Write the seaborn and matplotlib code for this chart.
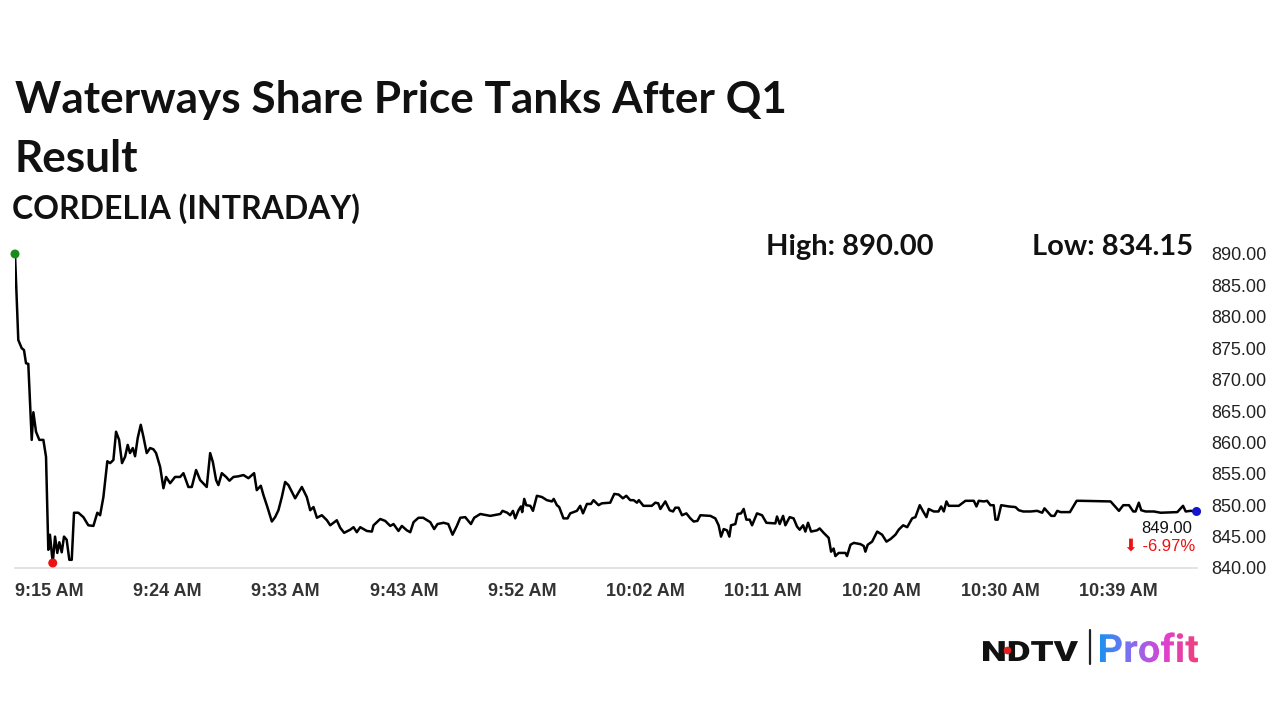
import numpy as np
import matplotlib
matplotlib.use("Agg")
import matplotlib.pyplot as plt
from matplotlib.patches import PathPatch
from matplotlib.textpath import TextPath
from matplotlib.font_manager import FontProperties
from matplotlib.transforms import Affine2D
import seaborn as sns

# Intraday prices: minutes after 9:15 AM and price (Rs)
minutes = [
    0.00, 0.26, 0.53, 0.71, 0.87, 1.05, 1.32, 1.45, 1.66, 1.92, 2.24, 2.45, 2.63, 2.76, 2.98,
    3.16, 3.34, 3.50, 3.69, 3.87, 4.08, 4.29, 4.48, 4.66, 5.00, 5.40, 5.79, 6.19, 6.50, 6.72,
    6.98, 7.29, 7.51, 7.77, 7.98, 8.22, 8.45, 8.69, 8.90, 9.08, 9.30, 9.48, 9.69, 9.93, 10.14,
    10.40, 10.67, 10.93, 11.14, 11.46, 11.72, 11.93, 12.25, 12.64, 13.04, 13.30, 13.69, 13.96,
    14.30, 14.62, 15.14, 15.41, 15.62, 15.88, 16.06, 16.33, 16.67, 16.93, 17.25, 17.64, 18.04,
    18.43, 18.88, 19.09, 19.41, 19.62, 19.93, 20.28, 20.54, 20.80, 21.07, 21.33, 21.59, 22.12,
    22.65, 23.04, 23.31, 23.57, 23.84, 24.23, 24.63, 24.89, 25.41, 25.68, 25.99, 26.47, 26.73,
    26.99, 27.26, 27.78, 28.18, 28.31, 28.84, 29.23, 29.63, 29.89, 30.28, 30.55, 30.94, 31.21,
    31.47, 31.86, 32.23, 32.79, 33.10, 33.36, 33.84, 34.21, 34.55, 34.89, 35.16, 35.55, 36.00,
    36.26, 36.74, 37.53, 38.32, 38.50, 38.87, 39.10, 39.32, 39.50, 39.76, 39.95, 40.05, 40.21,
    40.37, 40.69, 40.90, 41.21, 41.61, 42.00, 42.40, 42.54, 42.79, 42.97, 43.31, 43.63, 43.84,
    44.37, 44.63, 44.85, 45.16, 45.48, 45.68, 46.08, 46.34, 47.00, 47.32, 47.66, 48.00, 48.27,
    48.58, 48.85, 49.11, 49.26, 49.62, 50.28, 50.56, 50.79, 50.96, 51.35, 51.69, 51.96, 52.14,
    52.40, 52.67, 53.01, 53.33, 53.59, 53.88, 54.12, 54.91, 55.30, 55.56, 55.75, 55.96, 56.22,
    56.41, 56.54, 56.88, 57.06, 57.33, 57.54, 57.75, 58.01, 58.20, 58.59, 58.99, 59.33, 60.04,
    60.17, 60.38, 60.65, 60.83, 61.17, 61.48, 61.75, 61.96, 62.23, 62.41, 62.62, 62.86, 63.33,
    63.54, 63.85, 64.25, 64.44, 64.64, 64.78, 65.04, 65.57, 65.70, 65.97, 66.23, 66.76, 67.02,
    67.15, 67.33, 67.68, 68.08, 68.47, 68.81, 69.13, 69.52, 69.78, 70.13, 70.45, 70.84, 71.10,
    71.44, 71.71, 71.97, 72.15, 72.55, 72.92, 73.13, 73.34, 73.55, 73.73, 74.52, 75.05, 75.71,
    75.92, 76.10, 76.50, 76.76, 77.02, 77.28, 77.42, 77.60, 77.87, 78.47, 79.00, 79.26, 79.61,
    80.19, 80.71, 81.11, 81.29, 81.51, 81.82, 82.08, 82.30, 82.56, 83.30, 83.83, 84.14, 86.51,
    87.17, 87.51, 87.96, 88.30, 88.48, 88.74, 88.93, 89.27, 89.93, 90.46, 91.78, 92.23, 92.44,
    92.83, 93.30,
]
prices = [
    890.0, 876.3, 875.0, 874.7, 872.6, 872.5, 860.4, 864.8, 861.7, 860.4, 860.4, 857.7, 842.9, 845.3, 840.8,
    845.0, 842.4, 844.1, 842.5, 845.0, 844.5, 841.3, 841.3, 848.8, 848.8, 848.1, 846.8, 846.7, 848.8, 848.4,
    851.3, 857.0, 856.7, 857.2, 861.7, 860.4, 856.7, 857.7, 859.6, 858.3, 859.1, 857.8, 860.7, 862.8, 860.9,
    858.3, 859.1, 858.9, 858.3, 856.1, 852.7, 854.5, 853.5, 854.5, 854.5, 855.1, 852.9, 852.9,
    855.6, 854.0, 852.9, 858.3, 856.9, 854.0, 853.2, 855.1, 854.5, 853.9, 854.5, 854.6, 854.8,
    854.3, 855.1, 852.4, 853.1, 851.6, 849.7, 847.4, 848.1, 849.2, 851.3, 853.7, 853.2, 851.1,
    852.9, 851.3, 849.2, 849.7, 848.0, 848.4, 847.6, 846.8, 847.6, 846.4, 845.6, 846.1, 846.5,
    845.7, 846.5, 845.9, 845.8, 846.8, 847.8, 847.5, 846.7, 847.0, 845.9, 846.7, 846.0, 845.7,
    847.3, 848.0, 848.0, 847.3, 846.2, 847.0, 847.2, 847.0, 845.3, 846.7, 848.0, 848.1, 847.0,
    848.0, 848.6, 848.3, 848.6, 849.1, 848.8, 848.4, 849.1, 847.9, 849.2, 849.8, 848.9, 851.0,
    850.0, 849.9, 849.1, 851.5, 851.3, 850.8, 850.6, 851.0, 850.0, 849.7, 847.9, 847.9, 848.7,
    849.1, 849.9, 848.7, 850.2, 850.2, 850.8, 850.0, 850.3, 850.4, 851.8, 851.7, 851.1, 851.5,
    850.8, 850.8, 850.4, 850.8, 849.9, 849.9, 850.4, 850.3, 849.4, 850.6, 849.2, 849.0, 849.6,
    849.6, 848.4, 848.7, 847.9, 847.4, 847.5, 848.4, 848.3, 847.9, 846.8, 845.0, 846.2, 846.0,
    845.0, 846.8, 847.0, 848.6, 848.7, 849.4, 847.7, 847.7, 846.8, 848.7, 848.4, 847.2, 847.1,
    848.2, 847.0, 848.3, 846.8, 848.1, 847.9, 846.6, 846.1, 846.8, 845.8, 847.2, 845.8, 846.0,
    846.3, 845.6, 844.8, 842.6, 843.1, 841.9, 842.4, 842.4, 841.9, 843.7, 844.0, 843.8, 843.5,
    842.6, 843.7, 844.2, 845.8, 845.3, 844.2, 844.6, 845.3, 846.1, 846.8, 846.5, 847.9, 848.1,
    850.0, 849.0, 848.1, 849.4, 849.0, 849.0, 849.8, 849.0, 850.6, 849.9, 849.9, 850.7, 850.7,
    849.8, 850.7, 850.6, 850.7, 850.0, 850.0, 847.7, 847.7, 850.0, 849.8, 849.7, 849.2, 849.0,
    849.0, 849.1, 848.8, 849.5, 849.0, 848.3, 848.3, 849.1, 848.9, 848.9, 850.7, 850.7, 850.6,
    849.1, 850.0, 850.0, 849.0, 849.0, 850.4, 849.2, 849.0, 849.0, 848.8, 848.9, 849.9, 849.0,
    849.1, 849.0,
]

# x axis: ticks every 9 min 20 s from 9:15 AM, labels as shown on the chart
tick_minutes = [i * 28 / 3 for i in range(11)]
tick_labels = ["9:15 AM", "9:24 AM", "9:33 AM", "9:43 AM", "9:52 AM", "10:02 AM",
               "10:11 AM", "10:20 AM", "10:30 AM", "10:39 AM", ""]
y_ticks = [840, 845, 850, 855, 860, 865, 870, 875, 880, 885, 890]

title_lines = ["Waterways Share Price Tanks After Q1", "Result"]
subtitle = "CORDELIA (INTRADAY)"
day_high = 890.00
day_low = 834.15
last_price = 849.00
change_pct = -6.97


def fitted_text_path(text, family, weight, size, x0, width, baseline):
    # text outline stretched to a given width, placed on a baseline (logo axes units)
    tp = TextPath((0, 0), text, size=size, prop=FontProperties(family=family, weight=weight))
    ext = tp.get_extents()
    tr = Affine2D().translate(-ext.x0, 0).scale(width / ext.width, 1).translate(x0, baseline)
    return tr.transform_path(tp)


def main():
    sns.set_style("white")
    plt.rcParams["font.family"] = ["Liberation Sans", "DejaVu Sans"]

    fig = plt.figure(figsize=(12.8, 7.2), dpi=100)
    W, H = 1280, 720
    ax = fig.add_axes([15 / W, 1 - 568 / H, 1182 / W, 314 / H])

    sns.lineplot(x=minutes, y=prices, ax=ax, color="black", linewidth=1.8)

    # start, low and last point markers
    i_low = int(np.argmin(prices))
    sns.scatterplot(x=[minutes[0]], y=[prices[0]], ax=ax, color="#1a8a1a", s=42,
                    edgecolor="none", zorder=5, clip_on=False)
    sns.scatterplot(x=[minutes[i_low]], y=[prices[i_low]], ax=ax, color="#ee1111", s=42,
                    edgecolor="none", zorder=5, clip_on=False)
    sns.scatterplot(x=[minutes[-1]], y=[prices[-1]], ax=ax, color="#1515d0", s=42,
                    edgecolor="none", zorder=5, clip_on=False)

    ax.set_xlim(0, tick_minutes[-1])
    ax.set_ylim(y_ticks[0], y_ticks[-1])
    ax.set_xticks(tick_minutes)
    ax.set_xticklabels(tick_labels)
    ax.set_yticks(y_ticks)
    ax.set_yticklabels([f"{v:.2f}" for v in y_ticks])
    ax.yaxis.tick_right()
    ax.tick_params(axis="y", length=0, pad=10, labelsize=13, labelcolor="#222222")
    ax.tick_params(axis="x", length=5, width=1, color="#d0d0d0", pad=6,
                   labelsize=13, labelcolor="#333333")
    for lbl in ax.get_xticklabels():
        lbl.set_fontweight("bold")
        lbl.set_horizontalalignment("left")
    for side in ["top", "left", "right"]:
        ax.spines[side].set_visible(False)
    ax.spines["bottom"].set_color("#dddddd")
    ax.spines["bottom"].set_linewidth(1.2)
    ax.set_xlabel("")
    ax.set_ylabel("")

    # last price annotation
    ax.annotate(f"{last_price:.2f}", xy=(minutes[-1], prices[-1]), xytext=(-3, -12),
                textcoords="offset points", ha="right", va="center", fontsize=12,
                color="#111111")
    ax.annotate(f"\u2b07 {change_pct:.2f}%", xy=(minutes[-1], prices[-1]), xytext=(-1, -25),
                textcoords="offset points", ha="right", va="center", fontsize=12,
                color="#ee1111")

    # titles
    title_font = dict(family=["Lato", "DejaVu Sans"], fontweight="bold", color="#111111")
    fig.text(15 / W, 1 - 113 / H, title_lines[0], fontsize=31.8, va="baseline", **title_font)
    fig.text(15 / W, 1 - 172 / H, title_lines[1], fontsize=31.8, va="baseline", **title_font)
    fig.text(12 / W, 1 - 219 / H, subtitle, fontsize=23, va="baseline", **title_font)
    fig.text(766 / W, 1 - 255 / H, f"High: {day_high:.2f}", fontsize=21, va="baseline",
             **title_font)
    fig.text(1193 / W, 1 - 255 / H, f"Low: {day_low:.2f}", fontsize=21, va="baseline",
             ha="right", **title_font)

    # NDTV | Profit logo, drawn in a pixel-unit axes (y measured up from the bottom)
    lax = fig.add_axes([975 / W, 45 / H, 235 / W, 50 / H])
    lax.set_xlim(975, 1210)
    lax.set_ylim(45, 95)
    lax.axis("off")
    ndtv = fitted_text_path("NDTV", "Roboto", "black", 28, 983, 95, 59)
    lax.add_patch(PathPatch(ndtv, facecolor="#111111", edgecolor="none"))
    lax.plot([1006.5], [70], marker="o", markersize=4.5, color="#e02020")
    lax.plot([1090, 1090], [56, 90], color="#222222", linewidth=1.6)
    profit = fitted_text_path("Profit", "Roboto", "bold", 39, 1100, 98, 58)
    grad = np.linspace(0, 1, 256).reshape(1, -1)
    cmap = matplotlib.colors.LinearSegmentedColormap.from_list(
        "profit", ["#1e90f0", "#8a6cf0", "#e040d0", "#f0407a"])
    im = lax.imshow(grad, extent=(1100, 1198, 50, 95), cmap=cmap, aspect="auto")
    im.set_clip_path(PathPatch(profit, transform=lax.transData))

    fig.savefig("out.png", dpi=100, facecolor="white")
    plt.close(fig)


if __name__ == "__main__":
    main()
